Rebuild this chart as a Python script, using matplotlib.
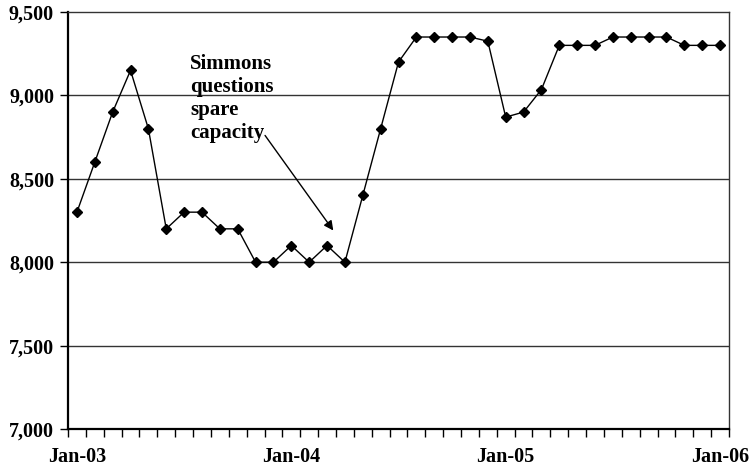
import matplotlib
matplotlib.use("Agg")
import matplotlib.pyplot as plt
from matplotlib.ticker import FuncFormatter, FixedLocator

months = list(range(37))
tick_labels = ["Jan-03", "Jan-04", "Jan-05", "Jan-06"]
tick_positions = [0, 12, 24, 36]
values = [8300, 8600, 8900, 9150, 8800, 8200, 8300, 8300, 8200, 8200,
          8000, 8000, 8100, 8000, 8100, 8000, 8400, 8800, 9200, 9350,
          9350, 9350, 9350, 9325, 8870, 8900, 9035, 9300, 9300, 9300,
          9350, 9350, 9350, 9350, 9300, 9300, 9300]
annotation_text = "Simmons\nquestions\nspare\ncapacity"

plt.rcParams['font.family'] = ['Liberation Serif', 'DejaVu Serif']
plt.rcParams['font.weight'] = 'bold'

fig = plt.figure(figsize=(7.51, 4.70), dpi=100)
ax = fig.add_axes([68/751, 41/470, (729-68)/751, (429-12)/470])

for y in [7500, 8000, 8500, 9000]:
    ax.axhline(y, color='#333333', lw=1.0, zorder=1)

ax.plot(months, values, color='black', lw=1.0, marker='D', markersize=5.5,
        markerfacecolor='black', markeredgecolor='black', zorder=3)

ax.set_xlim(-0.5, 36.5)
ax.set_ylim(7000, 9500)
ax.set_yticks([7000, 7500, 8000, 8500, 9000, 9500])
ax.yaxis.set_major_formatter(FuncFormatter(lambda v, p: f"{int(v):,}"))
ax.set_xticks(tick_positions)
ax.set_xticklabels(tick_labels)
ax.xaxis.set_minor_locator(FixedLocator([i - 0.5 for i in range(38)]))
ax.tick_params(axis='x', which='major', length=0, pad=13, labelsize=14.5)
ax.tick_params(axis='x', which='minor', length=6, width=1, direction='out',
               color='black', bottom=True, top=False)
ax.tick_params(axis='y', which='major', length=6, width=1, direction='out', pad=4, labelsize=14.5)
for lab in ax.get_xticklabels() + ax.get_yticklabels():
    lab.set_fontweight('bold')

for s in ['left', 'bottom']:
    ax.spines[s].set_linewidth(1.6)
for s in ['top', 'right']:
    ax.spines[s].set_linewidth(1.0)
    ax.spines[s].set_color('#333333')

ax.text(6.33, 9248, annotation_text, fontsize=15, fontweight='bold',
        ha='left', va='top', linespacing=1.2, zorder=4)
ax.annotate("", xy=(14.35, 8190), xytext=(10.53, 8760),
            arrowprops=dict(arrowstyle='-|>', color='black', lw=1.0,
                            mutation_scale=14, shrinkA=0, shrinkB=0), zorder=4)

fig.savefig("out.png", dpi=100)
